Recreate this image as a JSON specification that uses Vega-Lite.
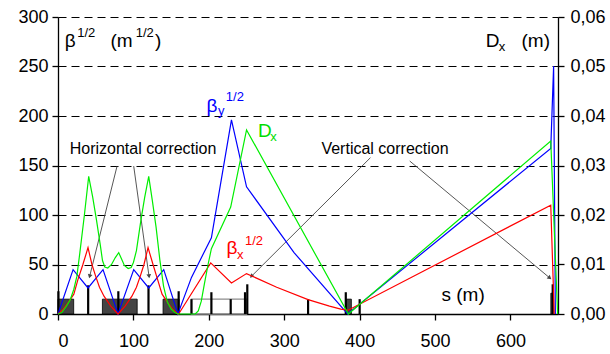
{
  "$schema": "https://vega.github.io/schema/vega-lite/v6.json",
  "width": 500,
  "height": 297,
  "autosize": "none",
  "padding": {"left": 58, "top": 17, "right": 52, "bottom": 40},
  "config": {
    "view": {"stroke": null},
    "font": "Liberation Sans",
    "axis": {
      "grid": false,
      "domainColor": "black",
      "domainWidth": 1.3,
      "tickColor": "black",
      "tickWidth": 1.3,
      "tickSize": 6,
      "labelFont": "Liberation Sans",
      "labelFontSize": 18,
      "labelColor": "black"
    }
  },
  "datasets": {
    "betax": [
      {"s": 0, "v": 0}, {"s": 6, "v": 4}, {"s": 13, "v": 11}, {"s": 21, "v": 20}, {"s": 26.5, "v": 35}, {"s": 33, "v": 50}, {"s": 39.8, "v": 67},
      {"s": 45, "v": 50}, {"s": 50, "v": 38}, {"s": 55, "v": 27}, {"s": 61, "v": 18}, {"s": 70, "v": 8}, {"s": 79.6, "v": 0},
      {"s": 89, "v": 8}, {"s": 98, "v": 18}, {"s": 104, "v": 27}, {"s": 109, "v": 38}, {"s": 114, "v": 50}, {"s": 119.4, "v": 67},
      {"s": 126, "v": 50}, {"s": 132, "v": 35}, {"s": 138, "v": 20}, {"s": 146, "v": 11}, {"s": 153, "v": 4}, {"s": 159, "v": 0},
      {"s": 160, "v": 0}, {"s": 202.5, "v": 51.6}, {"s": 230, "v": 31.4}, {"s": 250, "v": 40.8}, {"s": 290, "v": 27}, {"s": 331.6, "v": 14.5},
      {"s": 360, "v": 8}, {"s": 375, "v": 5}, {"s": 384.6, "v": 3.8}, {"s": 653.4, "v": 110}, {"s": 658, "v": 0}
    ],
    "betay": [
      {"s": 0, "v": 0}, {"s": 20, "v": 44.8}, {"s": 39.8, "v": 26.3}, {"s": 59.7, "v": 44.8}, {"s": 79.6, "v": 0}, {"s": 100.4, "v": 44.8},
      {"s": 120.3, "v": 26.3}, {"s": 140.2, "v": 44.8}, {"s": 159, "v": 0}, {"s": 177, "v": 37}, {"s": 203.4, "v": 77}, {"s": 230, "v": 196},
      {"s": 250, "v": 128.5}, {"s": 313, "v": 62}, {"s": 384, "v": 0}, {"s": 653.4, "v": 167.3}, {"s": 657.2, "v": 250.6}, {"s": 659.5, "v": 0}
    ],
    "dx": [
      {"s": 0, "dx": 0}, {"s": 5, "dx": 0.0003}, {"s": 11, "dx": 0.00154}, {"s": 16, "dx": 0.0028}, {"s": 21, "dx": 0.005}, {"s": 25, "dx": 0.0076},
      {"s": 29, "dx": 0.0124}, {"s": 35, "dx": 0.02}, {"s": 40.7, "dx": 0.0278}, {"s": 46, "dx": 0.0236}, {"s": 51, "dx": 0.019}, {"s": 56, "dx": 0.014},
      {"s": 59, "dx": 0.0108}, {"s": 62, "dx": 0.0095}, {"s": 66, "dx": 0.0093}, {"s": 71, "dx": 0.01}, {"s": 76, "dx": 0.0114}, {"s": 80.5, "dx": 0.0124},
      {"s": 84, "dx": 0.0112}, {"s": 88, "dx": 0.0098}, {"s": 93, "dx": 0.0092}, {"s": 97, "dx": 0.0094}, {"s": 100, "dx": 0.0104}, {"s": 104, "dx": 0.0128},
      {"s": 110, "dx": 0.019}, {"s": 115, "dx": 0.0236}, {"s": 120.3, "dx": 0.0278}, {"s": 125, "dx": 0.023}, {"s": 130, "dx": 0.0176}, {"s": 135, "dx": 0.011},
      {"s": 140, "dx": 0.0056}, {"s": 145, "dx": 0.0024}, {"s": 150, "dx": 0.001}, {"s": 155, "dx": 0.0003}, {"s": 159, "dx": 0}, {"s": 182, "dx": 0},
      {"s": 186, "dx": 0.0006}, {"s": 190, "dx": 0.0026}, {"s": 194, "dx": 0.006}, {"s": 199, "dx": 0.01}, {"s": 203.4, "dx": 0.0132}, {"s": 229, "dx": 0.0216},
      {"s": 250, "dx": 0.0372}, {"s": 385, "dx": 0}, {"s": 653.4, "dx": 0.03494}, {"s": 662.5, "dx": 0}
    ],
    "magnets": [
      {"s": 0, "s2": 20.8, "v": 0, "v2": 15}, {"s": 58.9, "s2": 105, "v": 0, "v2": 15}, {"s": 139.3, "s2": 160.5, "v": 0, "v2": 15},
      {"s": 382.5, "s2": 389, "v": 0, "v2": 15}, {"s": 653.5, "s2": 655.5, "v": 0, "v2": 21}
    ],
    "bars": [
      {"s": 0.5, "v": 0, "v2": 23}, {"s": 40, "v": 0, "v2": 29}, {"s": 80, "v": 0, "v2": 23}, {"s": 120, "v": 0, "v2": 29}, {"s": 160, "v": 0, "v2": 23},
      {"s": 177, "v": 0, "v2": 15}, {"s": 203.4, "v": 0, "v2": 22}, {"s": 229, "v": 0, "v2": 15}, {"s": 248, "v": 0, "v2": 22}, {"s": 251, "v": 0, "v2": 30},
      {"s": 331.6, "v": 0, "v2": 15}, {"s": 381.6, "v": 0, "v2": 22}, {"s": 400, "v": 0, "v2": 15}, {"s": 656, "v": 0, "v2": 30}
    ]
  },
  "layer": [
    {
      "layer": [
        {
          "data": {"values": [{"s": 177, "s2": 250, "v": 0, "v2": 15}]},
          "mark": {"type": "rect", "fill": null, "fillOpacity": 0, "stroke": "#8c8c8c", "strokeWidth": 1.4},
          "encoding": {
            "x": {"field": "s", "type": "quantitative", "title": null, "scale": {"domain": [0, 663], "nice": false, "zero": false},
                  "axis": {"values": [0, 100, 200, 300, 400, 500, 600], "labelPadding": 12}},
            "x2": {"field": "s2"},
            "y": {"field": "v", "type": "quantitative", "title": null, "scale": {"domain": [0, 300], "nice": false},
                  "axis": {"values": [0, 50, 100, 150, 200, 250, 300], "grid": true, "gridColor": "black", "gridDash": [8, 5], "gridWidth": 1, "gridOpacity": 1, "labelPadding": 4}},
            "y2": {"field": "v2"}
          }
        },
        {
          "data": {"name": "magnets"},
          "mark": {"type": "rect", "fill": "#444444", "stroke": "black", "strokeWidth": 0.8},
          "encoding": {
            "x": {"field": "s", "type": "quantitative", "title": null},
            "x2": {"field": "s2"},
            "y": {"field": "v", "type": "quantitative", "title": null},
            "y2": {"field": "v2"}
          }
        },
        {
          "data": {"name": "bars"},
          "mark": {"type": "rule", "color": "black", "strokeWidth": 2.2},
          "encoding": {
            "x": {"field": "s", "type": "quantitative", "title": null},
            "y": {"field": "v", "type": "quantitative", "title": null},
            "y2": {"field": "v2"}
          }
        },
        {
          "data": {"values": [
            {"s": 78.3, "v": 149.4, "s2": 42.0, "v2": 38.1},
            {"s": 100.4, "v": 149.4, "s2": 120.7, "v2": 38.1},
            {"s": 414.3, "v": 157.9, "s2": 256.5, "v2": 38.1},
            {"s": 466.4, "v": 154.5, "s2": 652.1, "v2": 36.4}
          ]},
          "mark": {"type": "rule", "color": "#444444", "strokeWidth": 0.9},
          "encoding": {
            "x": {"field": "s", "type": "quantitative", "title": null},
            "x2": {"field": "s2"},
            "y": {"field": "v", "type": "quantitative", "title": null},
            "y2": {"field": "v2"}
          }
        },
        {
          "data": {"values": [{"s": 42.0, "v": 38.1}]},
          "mark": {"type": "point", "shape": "triangle-up", "filled": true, "color": "#444444", "size": 22, "angle": 194, "opacity": 1},
          "encoding": {"x": {"field": "s", "type": "quantitative", "title": null}, "y": {"field": "v", "type": "quantitative", "title": null}}
        },
        {
          "data": {"values": [{"s": 120.7, "v": 38.1}]},
          "mark": {"type": "point", "shape": "triangle-up", "filled": true, "color": "#444444", "size": 22, "angle": 172, "opacity": 1},
          "encoding": {"x": {"field": "s", "type": "quantitative", "title": null}, "y": {"field": "v", "type": "quantitative", "title": null}}
        },
        {
          "data": {"values": [{"s": 256.5, "v": 38.1}]},
          "mark": {"type": "point", "shape": "triangle-up", "filled": true, "color": "#444444", "size": 22, "angle": 225, "opacity": 1},
          "encoding": {"x": {"field": "s", "type": "quantitative", "title": null}, "y": {"field": "v", "type": "quantitative", "title": null}}
        },
        {
          "data": {"values": [{"s": 652.1, "v": 36.4}]},
          "mark": {"type": "point", "shape": "triangle-up", "filled": true, "color": "#444444", "size": 22, "angle": 130, "opacity": 1},
          "encoding": {"x": {"field": "s", "type": "quantitative", "title": null}, "y": {"field": "v", "type": "quantitative", "title": null}}
        },
        {
          "data": {"name": "betay"},
          "mark": {"type": "line", "color": "#0000ff", "strokeWidth": 1.2},
          "encoding": {"x": {"field": "s", "type": "quantitative", "title": null}, "y": {"field": "v", "type": "quantitative", "title": null}}
        },
        {
          "data": {"name": "betax"},
          "mark": {"type": "line", "color": "#ff0000", "strokeWidth": 1.2},
          "encoding": {"x": {"field": "s", "type": "quantitative", "title": null}, "y": {"field": "v", "type": "quantitative", "title": null}}
        },
        {
          "data": {"values": [
            {"s": 8.9, "v": 269.5, "t": "β"},
            {"s": 69.5, "v": 269.5, "t": "(m"},
            {"s": 128.5, "v": 269.5, "t": ")"},
            {"s": 567.2, "v": 269.5, "t": "D"},
            {"s": 614.6, "v": 269.5, "t": "(m)"},
            {"s": 508.5, "v": 12.8, "t": "s (m)"}
          ]},
          "mark": {"type": "text", "align": "left", "baseline": "alphabetic", "fontSize": 19, "color": "black"},
          "encoding": {"x": {"field": "s", "type": "quantitative", "title": null}, "y": {"field": "v", "type": "quantitative", "title": null}, "text": {"field": "t"}}
        },
        {
          "data": {"values": [
            {"s": 25.5, "v": 279.7, "t": "1/2"},
            {"s": 103, "v": 279.7, "t": "1/2"},
            {"s": 584.5, "v": 265.5, "t": "x"}
          ]},
          "mark": {"type": "text", "align": "left", "baseline": "alphabetic", "fontSize": 13, "color": "black"},
          "encoding": {"x": {"field": "s", "type": "quantitative", "title": null}, "y": {"field": "v", "type": "quantitative", "title": null}, "text": {"field": "t"}}
        },
        {
          "data": {"values": [
            {"s": 15.5, "v": 161.2, "t": "Horizontal correction"},
            {"s": 349.3, "v": 161.2, "t": "Vertical correction"}
          ]},
          "mark": {"type": "text", "align": "left", "baseline": "alphabetic", "fontSize": 16, "color": "black"},
          "encoding": {"x": {"field": "s", "type": "quantitative", "title": null}, "y": {"field": "v", "type": "quantitative", "title": null}, "text": {"field": "t"}}
        },
        {
          "data": {"values": [{"s": 196.8, "v": 203.7, "t": "β"}]},
          "mark": {"type": "text", "align": "left", "baseline": "alphabetic", "fontSize": 19, "color": "#0000ff"},
          "encoding": {"x": {"field": "s", "type": "quantitative", "title": null}, "y": {"field": "v", "type": "quantitative", "title": null}, "text": {"field": "t"}}
        },
        {
          "data": {"values": [{"s": 212.2, "v": 200.7, "t": "y"}, {"s": 222.5, "v": 215.2, "t": "1/2"}]},
          "mark": {"type": "text", "align": "left", "baseline": "alphabetic", "fontSize": 13, "color": "#0000ff"},
          "encoding": {"x": {"field": "s", "type": "quantitative", "title": null}, "y": {"field": "v", "type": "quantitative", "title": null}, "text": {"field": "t"}}
        },
        {
          "data": {"values": [{"s": 265.3, "v": 179.1, "t": "D"}]},
          "mark": {"type": "text", "align": "left", "baseline": "alphabetic", "fontSize": 19, "color": "#00dd00"},
          "encoding": {"x": {"field": "s", "type": "quantitative", "title": null}, "y": {"field": "v", "type": "quantitative", "title": null}, "text": {"field": "t"}}
        },
        {
          "data": {"values": [{"s": 281.5, "v": 174.7, "t": "x"}]},
          "mark": {"type": "text", "align": "left", "baseline": "alphabetic", "fontSize": 13, "color": "#00dd00"},
          "encoding": {"x": {"field": "s", "type": "quantitative", "title": null}, "y": {"field": "v", "type": "quantitative", "title": null}, "text": {"field": "t"}}
        },
        {
          "data": {"values": [{"s": 223.3, "v": 61, "t": "β"}]},
          "mark": {"type": "text", "align": "left", "baseline": "alphabetic", "fontSize": 19, "color": "#ff0000"},
          "encoding": {"x": {"field": "s", "type": "quantitative", "title": null}, "y": {"field": "v", "type": "quantitative", "title": null}, "text": {"field": "t"}}
        },
        {
          "data": {"values": [{"s": 237.4, "v": 55.7, "t": "x"}, {"s": 248, "v": 69.4, "t": "1/2"}]},
          "mark": {"type": "text", "align": "left", "baseline": "alphabetic", "fontSize": 13, "color": "#ff0000"},
          "encoding": {"x": {"field": "s", "type": "quantitative", "title": null}, "y": {"field": "v", "type": "quantitative", "title": null}, "text": {"field": "t"}}
        }
      ]
    },
    {
      "data": {"name": "dx"},
      "mark": {"type": "line", "color": "#00ee00", "strokeWidth": 1.2},
      "encoding": {
        "x": {"field": "s", "type": "quantitative", "title": null},
        "y": {"field": "dx", "type": "quantitative", "title": null, "scale": {"domain": [0, 0.06], "nice": false},
              "axis": {"orient": "right", "values": [0, 0.01, 0.02, 0.03, 0.04, 0.05, 0.06], "labelPadding": 6,
                       "labelExpr": "replace(format(datum.value, '.2f'), '.', ',')"}}
      }
    }
  ],
  "resolve": {"scale": {"y": "independent"}, "axis": {"y": "independent"}}
}
